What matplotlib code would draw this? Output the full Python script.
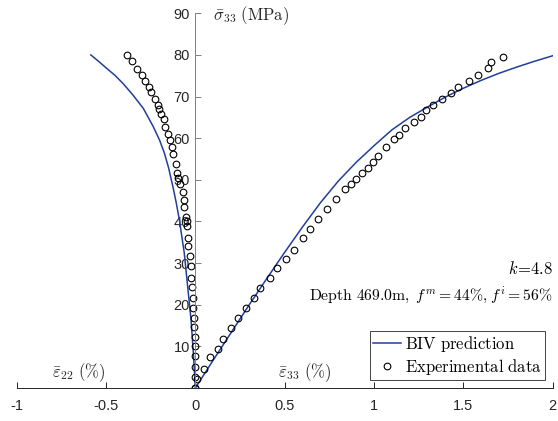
import matplotlib
matplotlib.use("Agg")
import matplotlib.pyplot as plt

plt.rcParams['mathtext.fontset'] = 'cm'
plt.rcParams['font.family'] = ['Liberation Sans', 'DejaVu Sans']

# BIV prediction curves
biv_e33_x = [0, 0.1, 0.2, 0.3, 0.4, 0.5, 0.6, 0.7, 0.8, 0.9, 1.0, 1.1, 1.2, 1.3,
             1.4, 1.5, 1.6, 1.7, 1.8, 1.9, 2.0]
biv_e33_y = [0, 6.7, 13.3, 19.9, 26.3, 32.6, 38.7, 44.5, 49.7, 54.2, 58.2, 62.0,
             65.0, 67.5, 69.9, 72.0, 73.9, 75.6, 77.1, 78.5, 79.8]
biv_e22_x = [0, -0.011, -0.024, -0.043, -0.062, -0.09, -0.108, -0.127, -0.15,
             -0.174, -0.2, -0.236, -0.26, -0.292, -0.35, -0.404, -0.45, -0.497,
             -0.54, -0.585]
biv_e22_y = [0, 8.2, 16.3, 24.3, 32.4, 40.5, 44.7, 48.6, 52.9, 56.5, 59.5, 62.8,
             64.7, 67.2, 70.4, 73.1, 75.1, 76.8, 78.4, 80.0]

# Experimental data
exp_e33_x = [0, 0.011, 0.05, 0.084, 0.125, 0.153, 0.2, 0.237, 0.284, 0.33, 0.362,
             0.415, 0.456, 0.508, 0.553, 0.603, 0.644, 0.687, 0.735, 0.787, 0.84,
             0.872, 0.90, 0.934, 0.965, 0.995, 1.025, 1.068, 1.109, 1.139, 1.171,
             1.221, 1.261, 1.292, 1.33, 1.38, 1.429, 1.47, 1.531, 1.58, 1.64,
             1.653, 1.722]
exp_e33_y = [0, 2.2, 4.6, 7.5, 9.3, 11.7, 14.3, 16.7, 19.1, 21.6, 24.1, 26.4, 28.9,
             31.0, 33.2, 36.1, 38.3, 40.6, 43.0, 45.4, 47.8, 49.1, 50.3, 51.6,
             52.9, 54.2, 55.7, 57.9, 59.8, 60.8, 62.4, 63.8, 65.1, 66.8, 68.0,
             69.5, 70.9, 72.3, 73.7, 75.2, 76.9, 78.3, 79.6]
exp_e22_x = [-0.381, -0.357, -0.329, -0.301, -0.281, -0.26, -0.251, -0.227,
             -0.208, -0.202, -0.195, -0.176, -0.171, -0.152, -0.14, -0.133,
             -0.124, -0.109, -0.102, -0.096, -0.087, -0.072, -0.063, -0.063,
             -0.053, -0.049, -0.046, -0.044, -0.04, -0.031, -0.027, -0.023,
             -0.019, -0.015, -0.012, -0.01, -0.007, -0.004, -0.002, 0.0, 0.0,
             0.0, 0.0]
exp_e22_y = [79.9, 78.6, 76.7, 75.3, 73.8, 72.2, 71.1, 69.3, 67.9, 67.0, 65.9,
             64.6, 62.6, 60.9, 59.5, 58.0, 56.3, 53.8, 51.6, 50.4, 49.1, 47.1,
             45.2, 43.4, 41.0, 40.2, 38.9, 36.0, 34.0, 31.7, 29.3, 26.4, 24.3,
             21.5, 19.1, 16.8, 14.6, 12.3, 10.1, 7.6, 5.0, 2.6, 0.0]

xticks = [-1, -0.5, 0, 0.5, 1, 1.5, 2]
xticklabels = ['-1', '-0.5', '0', '0.5', '1', '1.5', '2']
yticks = [10, 20, 30, 40, 50, 60, 70, 80, 90]
yticklabels = ['10', '20', '30', '40', '50', '60', '70', '80', '90']

blue = '#213f9a'
axcol = '#262626'

fig = plt.figure(figsize=(5.58, 4.21), dpi=100)
ax = fig.add_axes([16.7/558, 33/421, (552.7-16.7)/558, (388-13.3)/421])

ax.plot(biv_e33_x, biv_e33_y, color=blue, lw=1.1, label='BIV prediction')
ax.plot(biv_e22_x, biv_e22_y, color=blue, lw=1.1)
ax.plot(exp_e33_x, exp_e33_y, 'o', mfc='none', mec='black', ms=4.8, mew=0.8,
        label='Experimental data')
ax.plot(exp_e22_x, exp_e22_y, 'o', mfc='none', mec='black', ms=4.8, mew=0.8)

ax.set_xlim(-1, 2)
ax.set_ylim(0, 90)
ax.spines['left'].set_position(('data', 0))
ax.spines['bottom'].set_position(('data', 0))
ax.spines['top'].set_visible(False)
ax.spines['right'].set_visible(False)
for s in ('left', 'bottom'):
    ax.spines[s].set_color(axcol)
    ax.spines[s].set_linewidth(0.7)
ax.spines['left'].set_color('#808080')

ax.set_xticks(xticks)
ax.set_xticklabels(xticklabels)
ax.set_yticks(yticks)
ax.set_yticklabels(yticklabels)
ax.tick_params(axis='x', direction='in', length=4, width=0.7, color=axcol,
               labelsize=10.5, labelcolor=axcol, pad=8)
ax.tick_params(axis='y', direction='in', length=4, width=0.7, color='#808080',
               labelsize=10.5, labelcolor=axcol, pad=4)

ax.text(0.1, 89.4, r'$\bar{\sigma}_{33}\ \mathrm{(MPa)}$', ha='left', va='center',
        fontsize=12, color=axcol)
ax.text(-0.803, 3.8, r'$\bar{\varepsilon}_{22}\ (\%)$', ha='left', va='center',
        fontsize=12, color=axcol)
ax.text(0.4625, 3.8, r'$\bar{\varepsilon}_{33}\ (\%)$', ha='left', va='center',
        fontsize=12, color=axcol)
ax.text(2.0, 28.8, r'$k\!=\!4.8$', ha='right', va='center', fontsize=12,
        color='black')
ax.text(2.0, 22.3, r'$\mathrm{Depth\ 469.0m,}\;f^m = 44\%\mathrm{,}\;f^i = 56\%$',
        ha='right', va='center', fontsize=11.3, color='black')

leg = ax.legend(loc='lower right', bbox_to_anchor=(0.9856, 0.0213),
                borderaxespad=0, fancybox=False, framealpha=1,
                edgecolor=axcol, prop={'family': 'serif', 'size': 12},
                handlelength=1.7, handletextpad=0.2, borderpad=0.2,
                labelspacing=0.15)
leg.get_frame().set_linewidth(0.6)
for t in leg.get_texts():
    t.set_text(r'$\mathrm{' + t.get_text().replace(' ', r'\ ') + '}$')

fig.savefig('out.png', dpi=100)
